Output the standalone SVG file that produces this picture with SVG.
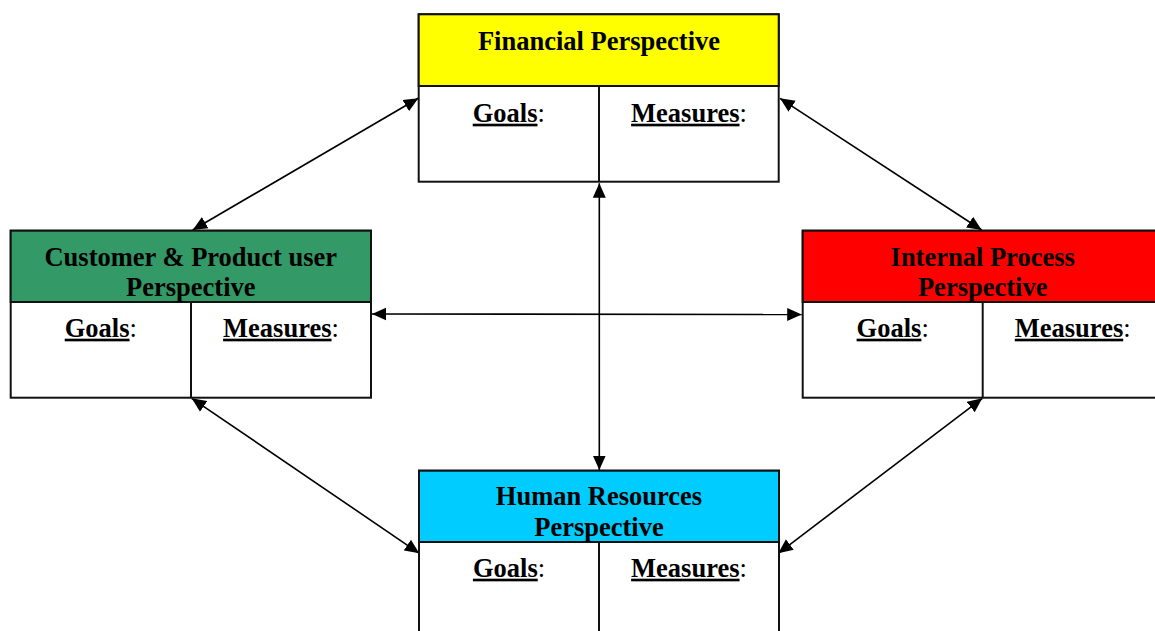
<svg xmlns="http://www.w3.org/2000/svg" width="1155" height="631" viewBox="0 0 1155 631">
<style>
.box{stroke:#111;stroke-width:2;fill:#fff}
.hdr{stroke:#111;stroke-width:2}
.div{stroke:#111;stroke-width:2}
.t{font-family:"Liberation Serif","Times New Roman",serif;font-weight:bold;font-size:26.5px;fill:#000;text-anchor:middle}
.u{text-decoration:underline}
.c{font-weight:normal}
.conn{stroke:#000;stroke-width:1.6;fill:none;marker-start:url(#ah);marker-end:url(#ah)}
</style>
<defs>
<marker id="ah" markerUnits="userSpaceOnUse" markerWidth="15" markerHeight="14" refX="14.5" refY="6.5" orient="auto-start-reverse" viewBox="0 0 15 13">
<path d="M0,0 L14.5,6.5 L0,13 z" fill="#000"/>
</marker>
</defs>
<rect width="1155" height="631" fill="#fff"/>
<g id="connectors">
<line class="conn" x1="418.3" y1="98.3" x2="192.7" y2="230"/>
<line class="conn" x1="780" y1="98.3" x2="981.7" y2="230"/>
<line class="conn" x1="191.7" y1="398.3" x2="419.3" y2="553.3"/>
<line class="conn" x1="982.3" y1="398.3" x2="778.3" y2="553.3"/>
<line class="conn" x1="372" y1="314" x2="801.7" y2="314.5"/>
<line class="conn" x1="599.3" y1="183.3" x2="599.3" y2="470"/>
</g>
<g id="financial">
<rect class="box" x="418.7" y="14.3" width="360" height="167.4"/>
<rect class="hdr" x="418.7" y="14.3" width="360" height="71.7" fill="#FFFF00"/>
<line class="div" x1="599" y1="86" x2="599" y2="181.7"/>
<text class="t" x="599" y="50">Financial Perspective</text>
<text class="t" x="508.8" y="121.7"><tspan class="u">Goals</tspan><tspan class="c">:</tspan></text>
<text class="t" x="689" y="121.7"><tspan class="u">Measures</tspan><tspan class="c">:</tspan></text>
</g>
<g id="customer">
<rect class="box" x="10.7" y="230.7" width="360.3" height="167"/>
<rect class="hdr" x="10.7" y="230.7" width="360.3" height="71.3" fill="#339966"/>
<line class="div" x1="191" y1="302" x2="191" y2="397.7"/>
<text class="t" x="190.8" y="265.7">Customer &amp; Product user</text>
<text class="t" x="190.8" y="296">Perspective</text>
<text class="t" x="100.8" y="336.7"><tspan class="u">Goals</tspan><tspan class="c">:</tspan></text>
<text class="t" x="281" y="336.7"><tspan class="u">Measures</tspan><tspan class="c">:</tspan></text>
</g>
<g id="internal">
<rect class="box" x="802.7" y="230.7" width="360" height="167"/>
<rect class="hdr" x="802.7" y="230.7" width="360" height="71.3" fill="#FF0000"/>
<line class="div" x1="982.7" y1="302" x2="982.7" y2="397.7"/>
<text class="t" x="982.7" y="265.7">Internal Process</text>
<text class="t" x="982.7" y="296">Perspective</text>
<text class="t" x="892.7" y="336.7"><tspan class="u">Goals</tspan><tspan class="c">:</tspan></text>
<text class="t" x="1072.7" y="336.7"><tspan class="u">Measures</tspan><tspan class="c">:</tspan></text>
</g>
<g id="human">
<rect class="box" x="419" y="470.7" width="360" height="180"/>
<rect class="hdr" x="419" y="470.7" width="360" height="71.3" fill="#00CCFF"/>
<line class="div" x1="599" y1="542" x2="599" y2="650"/>
<text class="t" x="599" y="505">Human Resources</text>
<text class="t" x="599" y="536">Perspective</text>
<text class="t" x="509" y="576.7"><tspan class="u">Goals</tspan><tspan class="c">:</tspan></text>
<text class="t" x="689" y="576.7"><tspan class="u">Measures</tspan><tspan class="c">:</tspan></text>
</g>
</svg>
